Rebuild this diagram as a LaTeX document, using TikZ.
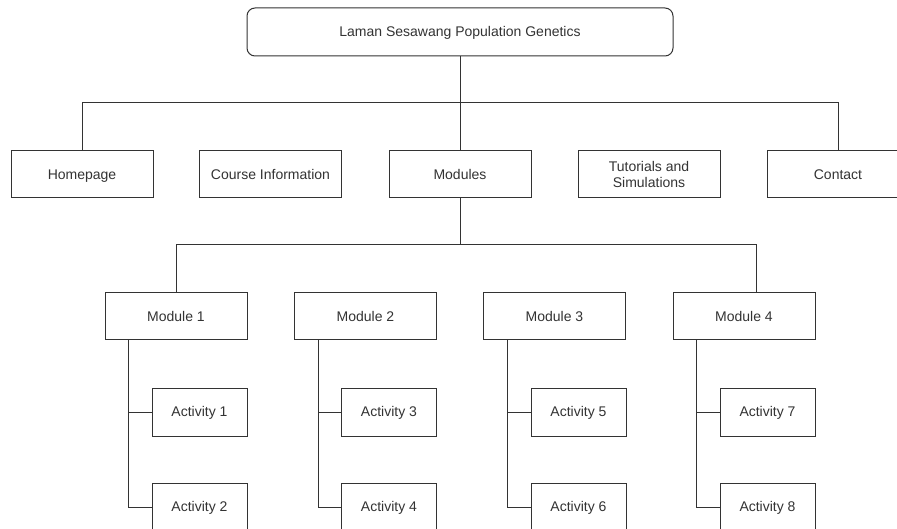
\documentclass[tikz,border=0pt]{standalone}
\usepackage{fontspec}
\setmainfont{Liberation Sans}
\usetikzlibrary{calc}
\definecolor{ink}{HTML}{333333}
\begin{document}
\begin{tikzpicture}[x=1pt,y=-1pt,
  basebox/.style={draw=ink,line width=1pt,fill=white,text=ink,inner sep=0pt,align=center,
    font=\fontsize{14}{16}\selectfont},
  box/.style={basebox,text height=10pt,text depth=0.4pt},
  topbox/.style={box,rounded corners=8pt,minimum width=426pt,minimum height=48pt},
  secbox/.style={box,minimum width=142pt,minimum height=47pt},
  twolinebox/.style={basebox,minimum width=142pt,minimum height=47pt},
  actbox/.style={box,minimum width=95pt,minimum height=48pt},
  link/.style={draw=ink,line width=1pt}]
\useasboundingbox (0,0) rectangle (897,529);
\node[topbox] (top) at (460,32) {Laman Sesawang Population Genetics};
\node[secbox] (home) at (82,174.5) {Homepage};
\node[secbox] (course) at (270.5,174.5) {Course Information};
\node[secbox] (modules) at (460,174.5) {Modules};
\node[twolinebox] (tut) at (649,174.5) {Tutorials and\\Simulations};
\node[secbox] (contact) at (838,174.5) {Contact};
\node[secbox] (m1) at (176,316.5) {Module 1};
\node[secbox] (m2) at (365.5,316.5) {Module 2};
\node[secbox] (m3) at (554.5,316.5) {Module 3};
\node[secbox] (m4) at (744,316.5) {Module 4};
\node[actbox] (a1) at (199.5,412) {Activity 1};
\node[actbox] (a2) at (199.5,507) {Activity 2};
\node[actbox] (a3) at (389,412) {Activity 3};
\node[actbox] (a4) at (389,507) {Activity 4};
\node[actbox] (a5) at (578.5,412) {Activity 5};
\node[actbox] (a6) at (578.5,507) {Activity 6};
\node[actbox] (a7) at (767.5,412) {Activity 7};
\node[actbox] (a8) at (767.5,507) {Activity 8};
\coordinate (bus1) at (0,103);
\coordinate (bus2) at (756,245);
\draw[link] (top.south) -- (modules.north);
\draw[link] (home.north) |- (bus1 -| contact.north) -- (contact.north);
\draw[link] (modules.south) -- (modules.south |- bus2);
\draw[link] (m1.north) |- (bus2) -- (bus2 |- m4.north);
\foreach \m/\x/\y in {m1/a1/a2,m2/a3/a4,m3/a5/a6,m4/a7/a8}{
  \coordinate (t) at ($(\m.south west)+(24,0)$);
  \draw[link] (t) |- (\y.west);
  \draw[link] (t |- \x.west) -- (\x.west);
}
\end{tikzpicture}
\end{document}
